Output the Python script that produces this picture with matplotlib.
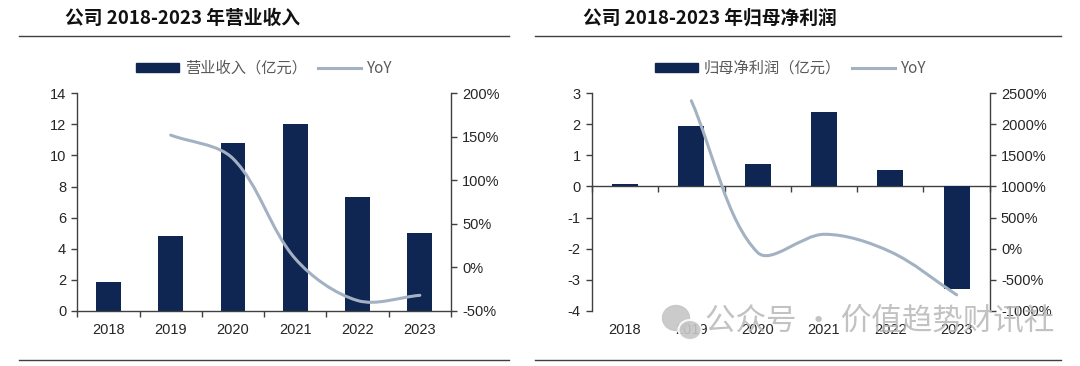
import numpy as np
import matplotlib
matplotlib.use('Agg')
import matplotlib.pyplot as plt
from matplotlib.path import Path
from matplotlib.patches import PathPatch, Patch, Ellipse
from matplotlib.lines import Line2D

years = ['2018', '2019', '2020', '2021', '2022', '2023']
revenue = [1.88, 4.84, 10.80, 12.03, 7.35, 5.02]
revenue_yoy = [np.nan, 152, 125, 10, -38, -32]
profit = [0.08, 1.95, 0.73, 2.39, 0.53, -3.31]
profit_yoy = [np.nan, 2380, -63, 230, -50, -745]

BAR = '#0f2552'
LINE = '#a3b2c3'
AXC = '#404040'
TXT = '#262626'
CJK = ['Noto Sans CJK SC', 'DejaVu Sans']

plt.rcParams['font.family'] = ['Liberation Sans', 'Noto Sans CJK SC', 'DejaVu Sans']
plt.rcParams['axes.unicode_minus'] = False

fig = plt.figure(figsize=(10.8, 3.66), dpi=100)


def smooth_line(ax, xs, ys, **kw):
    # Excel style smoothed line: bezier through the points,
    # tangents weighted by segment length on screen
    pts = ax.transData.transform(np.column_stack([xs, ys]))
    n = len(pts)

    def ctrl(i):
        prev = pts[max(i - 1, 0)]
        nxt = pts[min(i + 1, n - 1)]
        t = nxt - prev
        dp = np.hypot(*(pts[i] - prev))
        dn = np.hypot(*(nxt - pts[i]))
        s = dp + dn
        return pts[i] - t * dp / s / 3, pts[i] + t * dn / s / 3

    verts = [pts[0]]
    codes = [Path.MOVETO]
    for i in range(n - 1):
        verts += [ctrl(i)[1], ctrl(i + 1)[0], pts[i + 1]]
        codes += [Path.CURVE4] * 3
    verts = ax.transData.inverted().transform(np.array(verts))
    ax.add_patch(PathPatch(Path(verts, codes), fill=False, **kw))


def chart(rect, values, yoy, ylim, yticks, y2lim, y2ticks, label, bar_w):
    x = np.arange(len(years))
    ax = fig.add_axes(rect)
    ax.bar(x, values, width=bar_w, color=BAR, zorder=2)
    ax.set_xlim(-0.5, len(years) - 0.5)
    ax.set_ylim(*ylim)
    ax.set_yticks(yticks)
    ax.set_xticks(x, years)
    for s in ['top', 'right']:
        ax.spines[s].set_visible(False)
    for s in ['left', 'bottom']:
        ax.spines[s].set_color(AXC)
        ax.spines[s].set_linewidth(1)
    ax.tick_params(axis='y', direction='out', length=4, width=1, color=AXC,
                   labelsize=10.5, labelcolor=TXT, pad=4)
    ax.tick_params(axis='x', which='major', length=0, pad=9,
                   labelsize=10.5, labelcolor=TXT)

    ax2 = ax.twinx()
    ax2.set_ylim(*y2lim)
    ax2.set_yticks(y2ticks, [f'{t}%' for t in y2ticks])
    for s in ['top', 'left', 'bottom']:
        ax2.spines[s].set_visible(False)
    ax2.spines['right'].set_color(AXC)
    ax2.spines['right'].set_linewidth(1)
    ax2.tick_params(axis='y', direction='out', length=4, width=1, color=AXC,
                    labelsize=10.5, labelcolor=TXT, pad=4)

    yy = np.array(yoy, dtype=float)
    ok = ~np.isnan(yy)
    smooth_line(ax2, x[ok], yy[ok], edgecolor=LINE, lw=2.2, zorder=3,
                capstyle='round')

    handles = [Patch(color=BAR), Line2D([], [], color=LINE, lw=2.2)]
    ax2.legend(handles, [label, 'YoY'], loc='center', bbox_to_anchor=(0.5, 1.115),
               ncol=2, frameon=False, prop={'family': CJK, 'size': 11},
               handlelength=2.8, handleheight=0.55, columnspacing=0.7,
               handletextpad=0.4, labelcolor='#595959')
    return ax


# left: revenue
ax_l = chart([0.0716, 0.1503, 0.346, 0.5948], revenue, revenue_yoy,
             (0, 14), range(0, 15, 2), (-50, 200), list(range(-50, 201, 50)),
             '营业收入（亿元）', 0.40)
ax_l.set_xticks(np.arange(-0.5, len(years), 1), minor=True)
ax_l.tick_params(axis='x', which='minor', direction='out', length=4, width=1, color=AXC)

# right: net profit, x axis line sits at zero
plim = (-4, 3)
ax_r = chart([0.548, 0.1511, 0.3685, 0.594], profit, profit_yoy,
             plim, range(-4, 4), (-1000, 2500), list(range(-1000, 2501, 500)),
             '归母净利润（亿元）', 0.39)
ax_r.spines['bottom'].set_visible(False)
sec = ax_r.secondary_xaxis((0 - plim[0]) / (plim[1] - plim[0]))
sec.set_alignment('bottom')
sec.set_xticks(np.arange(-0.5, len(years), 1))
sec.tick_params(axis='x', direction='out', length=4, width=1, color=AXC,
                labelbottom=False, labeltop=False)
sec.spines['bottom'].set_color(AXC)
sec.spines['bottom'].set_linewidth(1)

# titles and rules
fig.text(65 / 1080, 1 - 18 / 366, '公司 2018-2023 年营业收入', ha='left', va='center',
         fontsize=13.5, fontweight='bold', family=CJK, color='#111111')
fig.text(583 / 1080, 1 - 18 / 366, '公司 2018-2023 年归母净利润', ha='left', va='center',
         fontsize=13.5, fontweight='bold', family=CJK, color='#111111')
for x0, x1 in [(19, 509), (535, 1061)]:
    for y in [36, 360]:
        fig.add_artist(Line2D([x0 / 1080, x1 / 1080], [1 - y / 366] * 2,
                              transform=fig.transFigure, color=AXC, lw=1))

# watermark
fig.add_artist(Ellipse((676 / 1080, 1 - 318 / 366), 27 / 1080, 25 / 366,
                       transform=fig.transFigure, color='#c6c6c6', alpha=0.9, zorder=10))
fig.add_artist(Ellipse((690 / 1080, 1 - 330 / 366), 23 / 1080, 20 / 366,
                       transform=fig.transFigure, facecolor='#c6c6c6', edgecolor='white',
                       lw=1.5, alpha=0.9, zorder=10))
fig.text(705 / 1080, 1 - 322 / 366, '公众号 · 价值趋势财讯社', ha='left', va='center',
         fontsize=22, family=CJK, color='#b8b8b8', alpha=0.85, zorder=10)

fig.savefig('out.png', dpi=100, facecolor='white')
